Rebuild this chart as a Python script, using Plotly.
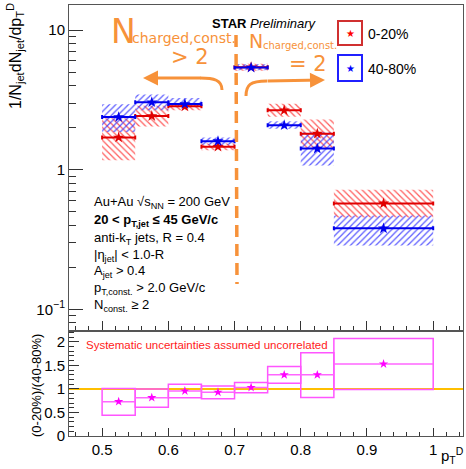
import plotly.graph_objects as go

# ---------------- data ----------------
bin_lo = [0.50, 0.55, 0.60, 0.65, 0.70, 0.75, 0.80, 0.85]
bin_hi = [0.55, 0.60, 0.65, 0.70, 0.75, 0.80, 0.85, 1.00]

red_val = [1.70, 2.42, 2.84, 1.46, 5.41, 2.66, 1.81, 0.573]
red_sys_hi = [2.33, 2.87, 2.99, 1.54, 5.73, 2.97, 2.29, 0.719]
red_sys_lo = [1.17, 2.04, 2.66, 1.38, 5.11, 2.39, 1.43, 0.455]

blue_val = [2.38, 3.04, 2.95, 1.60, 5.38, 2.08, 1.415, 0.380]
blue_sys_hi = [2.94, 3.45, 3.26, 1.70, 5.69, 2.22, 1.85, 0.470]
blue_sys_lo = [1.86, 2.66, 2.80, 1.51, 5.15, 1.96, 1.07, 0.287]

ratio_val = [0.73, 0.815, 0.957, 0.93, 1.03, 1.30, 1.30, 1.53]
ratio_sys_hi = [1.01, 1.00, 1.10, 1.06, 1.134, 1.475, 1.77, 2.07]
ratio_sys_lo = [0.44, 0.61, 0.815, 0.79, 0.92, 1.12, 0.82, 0.99]

legend_labels = ["0-20%", "40-80%"]
info_lines = [
    "Au+Au √s<sub>NN</sub> = 200 GeV",
    "<b>20 &lt; p<sub>T,jet</sub> ≤ 45 GeV/c</b>",
    "anti-k<sub>T</sub> jets, R = 0.4",
    "|η<sub>jet</sub>| &lt; 1.0-R",
    "A<sub>jet</sub> &gt; 0.4",
    "p<sub>T,const.</sub> &gt; 2.0 GeV/c",
    "N<sub>const.</sub> ≥ 2",
]

# ---------------- derived ----------------
centers = [(a + b) / 2 for a, b in zip(bin_lo, bin_hi)]
widths = [b - a for a, b in zip(bin_lo, bin_hi)]
halfw = [w / 2 for w in widths]

W, H = 466, 469
ML, MR, MT, MB = 69, 3, 5, 33
PW, PH = W - ML - MR, H - MT - MB


def px(x):
    return (x - ML) / PW


def py(y):
    return (H - MB - y) / PH


split = py(331)

RED = "#e00000"
BLUE = "#0000ee"
MAG = "#ff00ff"
ORANGE = "#f7923a"
FONT = "Liberation Sans, Arial, sans-serif"

fig = go.Figure()

# systematic hatched boxes
for hi, lo, col, shp in [
    (red_sys_hi, red_sys_lo, "rgba(255,50,50,0.8)", "\\"),
    (blue_sys_hi, blue_sys_lo, "rgba(50,50,255,0.8)", "/"),
]:
    fig.add_trace(go.Bar(
        x=centers, y=[h - l for h, l in zip(hi, lo)], base=lo, width=widths,
        marker=dict(color="rgba(0,0,0,0)", line=dict(width=0),
                    pattern=dict(shape=shp, fgcolor=col, bgcolor="rgba(0,0,0,0)",
                                 size=4.5, solidity=0.28, fillmode="replace")),
        xaxis="x", yaxis="y", showlegend=False, hoverinfo="skip"))

for vals, col in [(red_val, RED), (blue_val, BLUE)]:
    fig.add_trace(go.Scatter(
        x=centers, y=vals, mode="markers",
        marker=dict(symbol="star", size=8.5, color=col, line=dict(width=0)),
        error_x=dict(type="data", array=halfw, thickness=2, width=2, color=col),
        xaxis="x", yaxis="y", showlegend=False))

# ratio boxes
fig.add_trace(go.Bar(
    x=centers, y=[h - l for h, l in zip(ratio_sys_hi, ratio_sys_lo)], base=ratio_sys_lo,
    width=widths,
    marker=dict(color="rgba(0,0,0,0)", line=dict(width=1.5, color="#ff55ff")),
    xaxis="x2", yaxis="y2", showlegend=False, hoverinfo="skip"))
fig.add_trace(go.Scatter(
    x=centers, y=ratio_val, mode="markers",
    marker=dict(symbol="star", size=7, color=MAG),
    error_x=dict(type="data", array=halfw, thickness=1.5, width=0, color="#ff66ff"),
    xaxis="x2", yaxis="y2", showlegend=False))

axis_common = dict(showline=True, mirror=True, linecolor="#555", linewidth=1,
                   showgrid=False, zeroline=False, ticks="inside", tickcolor="#333",
                   tickfont=dict(family=FONT, size=15, color="black"))

fig.update_layout(
    width=W, height=H, margin=dict(l=ML, r=MR, t=MT, b=MB),
    paper_bgcolor="white", plot_bgcolor="white", barmode="overlay",
    xaxis=dict(axis_common, domain=[0, 1], range=[0.45, 1.045], anchor="y",
               tick0=0.5, dtick=0.1, ticklen=10, showticklabels=False,
               minor=dict(ticks="inside", dtick=0.02, tick0=0.5, ticklen=5, tickcolor="#333")),
    yaxis=dict(axis_common, domain=[split, 1], type="log", range=[-1.155, 1.179], anchor="x",
               tickvals=[0.1, 1, 10], ticktext=["10<sup>−1</sup>", "1", "10"], ticklen=14,
               minor=dict(ticks="inside", ticklen=7, tickcolor="#333",
                          tickvals=[0.08, 0.09] + [k / 10 for k in range(2, 10)] + list(range(2, 10)))),
    xaxis2=dict(axis_common, domain=[0, 1], range=[0.45, 1.045], anchor="y2",
                tick0=0.5, dtick=0.1, ticklen=8,
                minor=dict(ticks="inside", dtick=0.02, tick0=0.5, ticklen=4, tickcolor="#333")),
    yaxis2=dict(axis_common, domain=[0, split], range=[0, 2.23], anchor="x2",
                tickvals=[0, 0.5, 1, 1.5, 2], ticklen=10,
                minor=dict(ticks="inside", dtick=0.1, ticklen=5, tickcolor="#333")),
)

shapes = []
annos = []

# unity line
shapes.append(dict(type="line", xref="x2 domain", yref="y2", x0=0, x1=1, y0=1, y1=1,
                   line=dict(color="#ffbf00", width=2), layer="below"))

# legend boxes
for (y0, y1), col, scol, lab in zip([(21, 45), (55, 81)], ["#d03030", "#2020ff"],
                                    ["#ff0000", "#0000ff"], legend_labels):
    shapes.append(dict(type="rect", xref="paper", yref="paper", x0=px(338), x1=px(362),
                       y0=py(y1), y1=py(y0), line=dict(color=col, width=2)))
    annos.append(dict(xref="paper", yref="paper", x=px(350), y=py((y0 + y1) / 2),
                      text="★", showarrow=False, font=dict(size=10, color=scol, family="DejaVu Sans"),
                      xanchor="center", yanchor="middle"))
    annos.append(dict(xref="paper", yref="paper", x=px(366), y=py((y0 + y1) / 2 + 1),
                      text=lab, showarrow=False, font=dict(size=14, color="black", family=FONT),
                      xanchor="left", yanchor="middle"))

# STAR Preliminary
annos.append(dict(xref="paper", yref="paper", x=px(210), y=py(24), text="<b>STAR</b> <i>Preliminary</i>",
                  showarrow=False, font=dict(size=13, color="black", family=FONT),
                  xanchor="left", yanchor="middle"))

# info text
for yy, t in zip([202, 220, 238, 255, 271, 288, 305], info_lines):
    annos.append(dict(xref="paper", yref="paper", x=px(92), y=py(yy), text=t,
                      showarrow=False, font=dict(size=13, color="black", family=FONT),
                      xanchor="left", yanchor="middle"))

# ratio note
annos.append(dict(xref="paper", yref="paper", x=px(84), y=py(345),
                  text="Systematic uncertainties assumed uncorrelated", showarrow=False,
                  font=dict(size=11.5, color="#ff1a1a", family=FONT), xanchor="left", yanchor="middle"))

# axis titles
annos.append(dict(xref="paper", yref="paper", x=px(15), y=py(1), textangle=-90,
                  text="1/N<sub>jet</sub>dN<sub>jet</sub>/dp<sub>T</sub><sup>D</sup>", showarrow=False,
                  font=dict(size=16, color="black", family=FONT), xanchor="center", yanchor="top"))
annos.append(dict(xref="paper", yref="paper", x=px(36), y=py(386), textangle=-90,
                  text="(0-20%)/(40-80%)", showarrow=False,
                  font=dict(size=13, color="black", family=FONT), xanchor="center", yanchor="middle"))
annos.append(dict(xref="paper", yref="paper", x=px(466), y=py(468),
                  text="p<sub>T</sub><sup>D</sup>", showarrow=False,
                  font=dict(size=15, color="black", family=FONT), xanchor="right", yanchor="bottom"))

# orange hand annotations
OF = "DejaVu Sans"
annos += [
    dict(xref="paper", yref="paper", x=px(109), y=py(31), text="N", showarrow=False,
         font=dict(size=33, color=ORANGE, family=OF), xanchor="left", yanchor="middle"),
    dict(xref="paper", yref="paper", x=px(130), y=py(38), text="charged,const.", showarrow=False,
         font=dict(size=14, color=ORANGE, family=OF), xanchor="left", yanchor="middle"),
    dict(xref="paper", yref="paper", x=px(190), y=py(57), text="> 2", showarrow=False,
         font=dict(size=21, color=ORANGE, family=OF), xanchor="center", yanchor="middle"),
    dict(xref="paper", yref="paper", x=px(247), y=py(41), text="N", showarrow=False,
         font=dict(size=19, color=ORANGE, family=OF), xanchor="left", yanchor="middle"),
    dict(xref="paper", yref="paper", x=px(261), y=py(45), text="charged,const.", showarrow=False,
         font=dict(size=10, color=ORANGE, family=OF), xanchor="left", yanchor="middle"),
    dict(xref="paper", yref="paper", x=px(308), y=py(64), text="= 2", showarrow=False,
         font=dict(size=21, color=ORANGE, family=OF), xanchor="center", yanchor="middle"),
    dict(xref="paper", yref="paper", x=px(143), y=py(78), ax=59, ay=0,
         axref="pixel", ayref="pixel", text="", showarrow=True, arrowhead=2, arrowsize=1,
         arrowwidth=3, arrowcolor=ORANGE),
    dict(xref="paper", yref="paper", x=px(325), y=py(80), ax=-59, ay=1,
         axref="pixel", ayref="pixel", text="", showarrow=True, arrowhead=2, arrowsize=1,
         arrowwidth=3, arrowcolor=ORANGE),
]


def ppath(pts):
    (x0, y0), (x1, y1), (x2, y2), (x3, y3) = pts
    return (f"M {px(x0)},{py(y0)} C {px(x1)},{py(y1)} {px(x2)},{py(y2)} {px(x3)},{py(y3)}")


shapes.append(dict(type="path", xref="paper", yref="paper",
                   path=ppath([(222, 90), (222, 80), (214, 78), (200, 78)]),
                   line=dict(color=ORANGE, width=3)))
shapes.append(dict(type="path", xref="paper", yref="paper",
                   path=ppath([(246, 96), (246, 85), (250, 81), (267, 81)]),
                   line=dict(color=ORANGE, width=3)))
shapes.append(dict(type="line", xref="paper", yref="paper", x0=px(236), x1=px(237),
                   y0=py(35), y1=py(284), line=dict(color=ORANGE, width=3.5, dash="12px,7px")))

fig.update_layout(shapes=shapes, annotations=annos)
fig.write_html("out.html")
